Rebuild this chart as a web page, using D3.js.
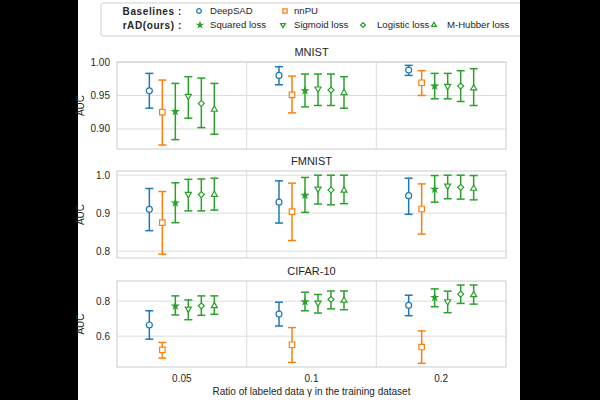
<!DOCTYPE html>
<html>
<head>
<meta charset="utf-8">
<script src="https://cdn.jsdelivr.net/npm/d3@7"></script>
<style>
  body { margin: 0; background: #000; }
  text { font-family: "Liberation Sans", Arial, sans-serif; fill: #262626; }
</style>
</head>
<body>
<div id="chart"></div>
<script>
// categories
var ratios = ["0.05", "0.1", "0.2"];
var methods = ["DeepSAD", "nnPU", "Squared loss", "Sigmoid loss", "Logistic loss", "M-Hubber loss"];

// values: [ratio][method]
var mnistMean = [[0.957, 0.925, 0.926, 0.949, 0.938, 0.929],
                 [0.980, 0.951, 0.957, 0.960, 0.958, 0.954],
                 [0.988, 0.969, 0.964, 0.964, 0.964, 0.961]];
var mnistLow  = [[0.931, 0.876, 0.884, 0.916, 0.902, 0.892],
                 [0.966, 0.924, 0.933, 0.935, 0.935, 0.931],
                 [0.980, 0.950, 0.945, 0.945, 0.941, 0.935]];
var mnistHigh = [[0.983, 0.973, 0.968, 0.978, 0.976, 0.968],
                 [0.993, 0.979, 0.982, 0.982, 0.982, 0.978],
                 [0.995, 0.987, 0.983, 0.983, 0.987, 0.990]];

var fmnistMean = [[0.910, 0.875, 0.927, 0.950, 0.949, 0.949],
                  [0.929, 0.904, 0.947, 0.964, 0.961, 0.960],
                  [0.946, 0.911, 0.963, 0.972, 0.968, 0.965]];
var fmnistLow  = [[0.854, 0.792, 0.875, 0.906, 0.906, 0.908],
                  [0.874, 0.828, 0.902, 0.924, 0.922, 0.925],
                  [0.897, 0.845, 0.929, 0.938, 0.937, 0.935]];
var fmnistHigh = [[0.965, 0.957, 0.980, 0.989, 0.990, 0.992],
                  [0.985, 0.979, 0.994, 1.000, 1.000, 1.000],
                  [0.992, 0.977, 0.999, 1.000, 1.000, 0.999]];

var cifarMean = [[0.664, 0.522, 0.772, 0.756, 0.773, 0.773],
                 [0.726, 0.551, 0.796, 0.790, 0.810, 0.804],
                 [0.776, 0.538, 0.821, 0.798, 0.840, 0.836]];
var cifarLow  = [[0.583, 0.475, 0.721, 0.694, 0.719, 0.725],
                 [0.658, 0.450, 0.745, 0.732, 0.756, 0.751],
                 [0.717, 0.445, 0.768, 0.734, 0.787, 0.783]];
var cifarHigh = [[0.745, 0.564, 0.830, 0.807, 0.830, 0.830],
                 [0.794, 0.649, 0.851, 0.838, 0.858, 0.858],
                 [0.834, 0.630, 0.870, 0.857, 0.892, 0.892]];

var colors = ["#1f77b4", "#ff7f0e", "#2ca02c", "#2ca02c", "#2ca02c", "#2ca02c"];

var panels = [
  {title: "MNIST", mean: mnistMean, low: mnistLow, high: mnistHigh, top: 62, bottom: 149, domain: [0.87, 1.0], ticks: [0.90, 0.95, 1.00], fmt: ".2f"},
  {title: "FMNIST", mean: fmnistMean, low: fmnistLow, high: fmnistHigh, top: 171, bottom: 258, domain: [0.782, 1.011], ticks: [0.8, 0.9, 1.0], fmt: ".1f"},
  {title: "CIFAR-10", mean: cifarMean, low: cifarLow, high: cifarHigh, top: 281, bottom: 367, domain: [0.424, 0.915], ticks: [0.6, 0.8], fmt: ".1f"}
];

var width = 600, height = 400;
var left = 117, right = 506;

var svg = d3.select("#chart").append("svg").attr("width", width).attr("height", height);
svg.append("rect").attr("x", 0).attr("y", 0).attr("width", width).attr("height", height).attr("fill", "#000");
svg.append("rect").attr("x", 78).attr("y", 0).attr("width", 442).attr("height", height).attr("fill", "#fff");

var xScale = d3.scaleBand().domain(ratios).range([left, right]);
var offset = d3.scalePoint().domain(methods).range([-32.5, 32.5]);

var symbolTypes = [d3.symbolCircle, d3.symbolSquare, d3.symbolStar, d3.symbolTriangle, d3.symbolSquare, d3.symbolTriangle];

function markerPath(i, k) {
  var sizes = [28, 30, 10, 16, 18, 16];
  return d3.symbol().type(symbolTypes[i]).size(sizes[i] * k)();
}
function markerRotate(i) {
  if (i == 3) return 180;
  if (i == 4) return 45;
  return 0;
}

panels.forEach(function(p) {
  var yScale = d3.scaleLinear().domain(p.domain).range([p.bottom, p.top]);
  var g = svg.append("g");

  // grid
  g.selectAll(".hgrid").data(p.ticks).enter().append("line")
    .attr("x1", left).attr("x2", right)
    .attr("y1", function(d) { return yScale(d); }).attr("y2", function(d) { return yScale(d); })
    .attr("stroke", "#dcdcdc").attr("stroke-width", 1);
  g.selectAll(".vgrid").data(ratios.slice(1)).enter().append("line")
    .attr("x1", function(d) { return xScale(d); }).attr("x2", function(d) { return xScale(d); })
    .attr("y1", p.top).attr("y2", p.bottom)
    .attr("stroke", "#dcdcdc").attr("stroke-width", 1);
  g.append("rect").attr("x", left).attr("y", p.top).attr("width", right - left).attr("height", p.bottom - p.top)
    .attr("fill", "none").attr("stroke", "#cccccc").attr("stroke-width", 1);

  // y tick labels
  g.selectAll(".ytick").data(p.ticks).enter().append("text")
    .attr("x", 110).attr("y", function(d) { return yScale(d); })
    .attr("dy", "0.35em").attr("text-anchor", "end").style("font-size", "10px")
    .text(function(d) { return d3.format(p.fmt)(d); });

  g.append("text")
    .attr("transform", "translate(84," + ((p.top + p.bottom) / 2) + ") rotate(-90)")
    .attr("text-anchor", "middle").style("font-size", "10px").text("AUC");

  g.append("text").attr("x", (left + right) / 2).attr("y", p.top - 10)
    .attr("dy", "0.35em").attr("text-anchor", "middle").style("font-size", "11px").text(p.title);

  // error bars
  var pts = [];
  ratios.forEach(function(r, ri) {
    methods.forEach(function(m, mi) {
      pts.push({x: xScale(r) + xScale.bandwidth() / 2 + offset(m), mean: p.mean[ri][mi], lo: p.low[ri][mi], hi: p.high[ri][mi], i: mi});
    });
  });

  var bars = g.selectAll(".bar").data(pts).enter().append("g");
  bars.append("line")
    .attr("x1", function(d) { return d.x; }).attr("x2", function(d) { return d.x; })
    .attr("y1", function(d) { return yScale(d.lo); }).attr("y2", function(d) { return yScale(d.hi); })
    .attr("stroke", function(d) { return colors[d.i]; }).attr("stroke-width", 1.5);
  bars.selectAll(".cap").data(function(d) { return [{x: d.x, v: d.lo, i: d.i}, {x: d.x, v: d.hi, i: d.i}]; })
    .enter().append("line")
    .attr("x1", function(d) { return d.x - 4; }).attr("x2", function(d) { return d.x + 4; })
    .attr("y1", function(d) { return yScale(d.v); }).attr("y2", function(d) { return yScale(d.v); })
    .attr("stroke", function(d) { return colors[d.i]; }).attr("stroke-width", 1.5);
  bars.append("path")
    .attr("d", function(d) { return markerPath(d.i, 1); })
    .attr("transform", function(d) { return "translate(" + d.x + "," + yScale(d.mean) + ") rotate(" + markerRotate(d.i) + ")"; })
    .attr("fill", function(d) { return d.i == 2 ? colors[d.i] : "#fff"; })
    .attr("stroke", function(d) { return colors[d.i]; }).attr("stroke-width", 1.2);
});

// x axis labels
svg.selectAll(".xtick").data(ratios).enter().append("text")
  .attr("x", function(d) { return xScale(d) + xScale.bandwidth() / 2; })
  .attr("y", 378).attr("dy", "0.35em").attr("text-anchor", "middle").style("font-size", "10px")
  .text(function(d) { return d; });
svg.append("text").attr("x", (left + right) / 2).attr("y", 391).attr("dy", "0.35em")
  .attr("text-anchor", "middle").style("font-size", "10px")
  .text("Ratio of labeled data \u03b3 in the training dataset");

// legend
var leg = svg.append("g");
leg.append("rect").attr("x", 101).attr("y", 3).attr("width", 430).attr("height", 33).attr("rx", 2)
  .attr("fill", "#fff").attr("stroke", "#d0d0d0");
leg.append("text").attr("x", 182).attr("y", 11).attr("dy", "0.35em").attr("text-anchor", "end")
  .style("font-size", "10px").style("font-weight", "bold").style("letter-spacing", "0.6px").text("Baselines :");
leg.append("text").attr("x", 182).attr("y", 25).attr("dy", "0.35em").attr("text-anchor", "end")
  .style("font-size", "10px").style("font-weight", "bold").style("letter-spacing", "0.6px").text("rAD(ours) :");

var legendItems = [
  {i: 0, mx: 199, tx: 210, y: 11},
  {i: 1, mx: 285, tx: 294, y: 11},
  {i: 2, mx: 200, tx: 210, y: 25},
  {i: 3, mx: 283, tx: 294, y: 25},
  {i: 4, mx: 363, tx: 377, y: 25},
  {i: 5, mx: 434, tx: 447, y: 25}
];
legendItems.forEach(function(d) {
  leg.append("path").attr("d", markerPath(d.i, 0.6))
    .attr("transform", "translate(" + d.mx + "," + d.y + ") rotate(" + markerRotate(d.i) + ")")
    .attr("fill", d.i == 2 ? colors[d.i] : "#fff").attr("stroke", colors[d.i]).attr("stroke-width", 1.3);
  leg.append("text").attr("x", d.tx).attr("y", d.y).attr("dy", "0.35em").style("font-size", "9.6px").text(methods[d.i]);
});

// right black strip drawn over legend overflow
svg.append("rect").attr("x", 520).attr("y", 0).attr("width", 80).attr("height", height).attr("fill", "#000");
</script>
</body>
</html>
